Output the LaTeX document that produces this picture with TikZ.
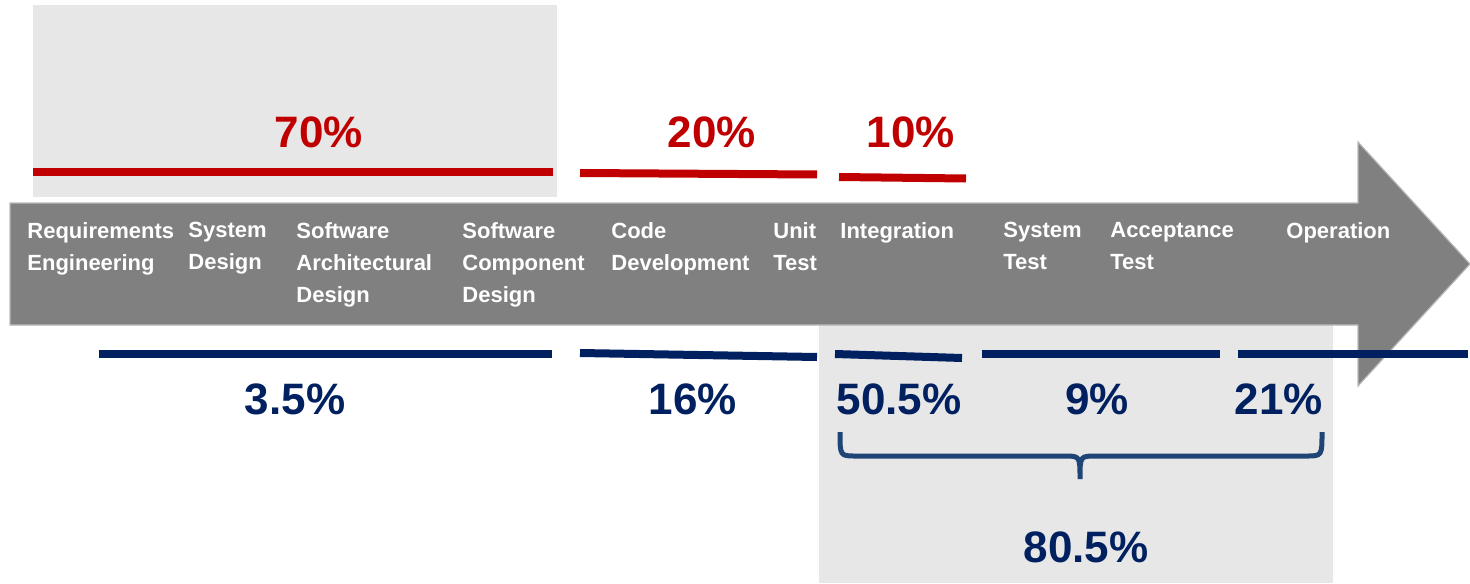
\documentclass[tikz,border=0pt]{standalone}
\usepackage{fontspec}
\setmainfont{Liberation Sans}
\setsansfont{Liberation Sans}
\definecolor{cred}{HTML}{C00000}
\definecolor{cnavy}{HTML}{002060}
\definecolor{cbrace}{HTML}{1F4576}
\definecolor{carrow}{HTML}{808080}
\definecolor{clight}{HTML}{E7E7E7}
\tikzset{
  phase/.style={anchor=north west, inner sep=0pt, align=left, text=white,
    font=\bfseries\fontsize{11}{16}\selectfont},
  redpct/.style={inner sep=0pt, text=cred, font=\bfseries\fontsize{22}{24}\selectfont},
  bluepct/.style={inner sep=0pt, text=cnavy, font=\bfseries\fontsize{22}{24}\selectfont},
  redbar/.style={draw=cred, line width=4pt},
  bluebar/.style={draw=cnavy, line width=4pt},
  bracestyle/.style={draw=cbrace, line width=2.5pt},
}
\begin{document}
\begin{tikzpicture}[x=0.5pt,y=-0.5pt]
\useasboundingbox (0,0) rectangle (1470,583);
% background boxes
\fill[clight] (33,5) rectangle (557,197);
\fill[clight] (819,300) rectangle (1333,583);
% arrow
\filldraw[fill=carrow, draw=gray!55, line width=0.6pt]
  (10,203) -- (1358,203) -- (1358,142) -- (1470,264) -- (1358,386) -- (1358,325) -- (10,325) -- cycle;
% red bars
\draw[redbar] (33,172) -- (553,172);
\draw[redbar] (580,173) -- (817,174.5);
\draw[redbar] (839,177) -- (966,178.5);
% blue bars
\draw[bluebar] (99,354) -- (552,354);
\draw[bluebar] (580,353) -- (817,357);
\draw[bluebar] (835,354) -- (962,358);
\draw[bluebar] (982,354) -- (1220,354);
\draw[bluebar] (1238,354) -- (1468,354);
% red labels
\node[redpct] (p70) at (319,132) {70\%};
\node[redpct] (p20) at (712,132) {20\%};
\node[redpct] (p10) at (911,132) {10\%};
% blue labels
\node[bluepct] (p35) at (295,399) {3.5\%};
\node[bluepct] (p16) at (693,399) {16\%};
\node[bluepct] (p505) at (899,399) {50.5\%};
\node[bluepct] (p9) at (1097,399) {9\%};
\node[bluepct] (p21) at (1279,399) {21\%};
\node[bluepct] (p805) at (1086,547) {80.5\%};
% brace
\draw[bracestyle] (840,432) .. controls (840,456) .. (856,456) -- (1064,456)
  .. controls (1080,456) .. (1080,479) .. controls (1080,456) .. (1096,456)
  -- (1306,456) .. controls (1322,456) .. (1322,432);
% phase labels
\node[phase] (req) at (27,222) {Requirements\\Engineering};
\node[phase] (sys) at (188,222) {System\\Design};
\node[phase] (swa) at (296,222) {Software\\Architectural\\Design};
\node[phase] (swc) at (462,222) {Software\\Component\\Design};
\node[phase] (code) at (611,222) {Code\\Development};
\node[phase] (unit) at (773,222) {Unit\\Test};
\node[phase] (integ) at (840,222) {Integration};
\node[phase] (syst) at (1003,222) {System\\Test};
\node[phase] (acc) at (1110,222) {Acceptance\\Test};
\node[phase] (op) at (1286,222) {Operation};
\end{tikzpicture}
\end{document}
